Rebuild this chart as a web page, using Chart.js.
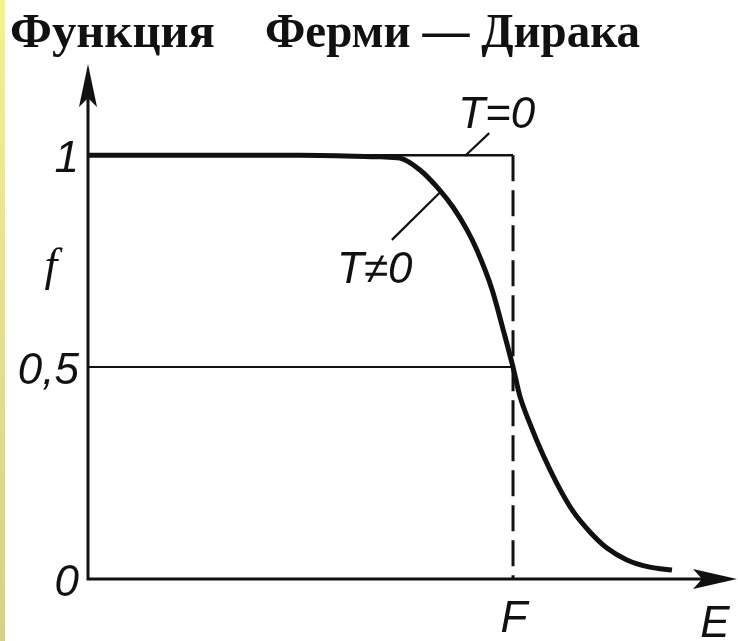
<!DOCTYPE html>
<html>
<head>
<meta charset="utf-8">
<script src="https://cdn.jsdelivr.net/npm/chart.js@4/dist/chart.umd.min.js"></script>
<style>
  html, body { margin: 0; padding: 0; background: #fff; }
  canvas { display: block; }
</style>
</head>
<body>
<canvas id="fd" width="738" height="641"></canvas>
<script>
// Energy in units of the Fermi energy F; occupancy f of a state at that energy (T ≠ 0)
const energyWarm = [0, 0.5, 0.69, 0.734, 0.781, 0.828, 0.859, 0.892, 0.915, 0.951, 0.979,
                    1.0, 1.016, 1.04, 1.071, 1.104, 1.141, 1.181, 1.221, 1.268, 1.322, 1.374];
const occupancyWarm = [1, 1, 0.996, 0.993, 0.965, 0.917, 0.877, 0.823, 0.776, 0.682, 0.58,
                       0.5, 0.432, 0.366, 0.292, 0.224, 0.16, 0.111, 0.073, 0.045, 0.028, 0.021];

// Step function at absolute zero
const energyCold = [0, 1];
const occupancyCold = [1, 1];
const fermiEnergy = 1;
const halfLevel = 0.5;

// Axis ranges (the arrows end at the maxima)
const energyRange = [0, 1.527];
const occupancyRange = [0, 1.215];

// Tick marks and their labels
const yTickValues = [0, 0.5, 1];
const yTickLabels = ['0', '0,5', '1'];
const xTickValues = [1];
const xTickLabels = ['F'];

const titleParts = ['Функция', 'Ферми — Дирака'];
const axisNameY = 'f';
const axisNameX = 'E';
const labelCold = 'T=0';
const labelWarm = 'T≠0';

const INK = '#111';
const pts = (xs, ys) => xs.map((x, i) => ({ x, y: ys[i] }));

// Axes with arrowheads, labels, leader lines, heading and the page edge
const decor = {
  id: 'decor',
  beforeDraw(chart) {
    const { ctx, width, height } = chart;
    ctx.save();
    ctx.fillStyle = '#fff';
    ctx.fillRect(0, 0, width, height);
    const g = ctx.createLinearGradient(0, 0, 0, height);
    g.addColorStop(0, '#f6f18c');
    g.addColorStop(1, '#d7d183');
    ctx.fillStyle = g;
    ctx.fillRect(0, 0, 5, height);
    ctx.restore();
  },
  afterDatasetsDraw(chart) {
    const { ctx, chartArea } = chart;
    const xs = chart.scales.x, ys = chart.scales.y;
    const X = v => xs.getPixelForValue(v);
    const Y = v => ys.getPixelForValue(v);
    const x0 = X(0), y0 = Y(0);
    const tipX = chartArea.right, tipY = chartArea.top;

    ctx.save();
    ctx.strokeStyle = INK;
    ctx.fillStyle = INK;
    ctx.lineCap = 'butt';

    // axis lines
    ctx.lineWidth = 3;
    ctx.beginPath();
    ctx.moveTo(x0, y0 + 1.5);
    ctx.lineTo(x0, tipY + 12);
    ctx.moveTo(x0 - 1.5, y0);
    ctx.lineTo(tipX - 12, y0);
    ctx.stroke();

    // arrowheads
    ctx.beginPath();
    ctx.moveTo(x0, tipY);
    ctx.lineTo(x0 + 9, tipY + 43);
    ctx.lineTo(x0, tipY + 34);
    ctx.lineTo(x0 - 9, tipY + 43);
    ctx.closePath();
    ctx.fill();
    ctx.beginPath();
    ctx.moveTo(tipX, y0);
    ctx.lineTo(tipX - 44, y0 - 10);
    ctx.lineTo(tipX - 35, y0);
    ctx.lineTo(tipX - 44, y0 + 10);
    ctx.closePath();
    ctx.fill();

    // leader lines to the curve labels
    ctx.lineWidth = 2.2;
    ctx.beginPath();
    ctx.moveTo(X(0.887), Y(0.998));
    ctx.lineTo(X(0.944), Y(1.052));
    ctx.moveTo(X(0.715), Y(0.800));
    ctx.lineTo(X(0.828), Y(0.912));
    ctx.stroke();

    // tick labels
    ctx.font = 'italic 44px "Liberation Sans", Arial, sans-serif';
    ctx.textBaseline = 'alphabetic';
    ctx.textAlign = 'right';
    yTickValues.forEach((v, i) => ctx.fillText(yTickLabels[i], x0 - 9, Y(v) + 17));
    ctx.textAlign = 'center';
    xTickValues.forEach((v, i) => ctx.fillText(xTickLabels[i], X(v) + 1, y0 + 53));
    ctx.fillText(axisNameX, tipX - 22, y0 + 58);

    // curve labels
    ctx.textAlign = 'left';
    ctx.fillText(labelCold, X(0.871), Y(1.064));
    ctx.fillText(labelWarm, X(0.586), Y(0.698));

    // ordinate name
    ctx.font = 'italic 46px "Liberation Serif", "Times New Roman", serif';
    ctx.textAlign = 'center';
    ctx.fillText(axisNameY, x0 - 37, Y(0.73) + 10);

    // heading, each part fitted to its span
    ctx.font = 'bold 48px "Liberation Serif", "Times New Roman", serif';
    ctx.textAlign = 'left';
    const spans = [[10, 205], [265, 375]];
    titleParts.forEach((t, i) => {
      const w = ctx.measureText(t).width;
      ctx.save();
      ctx.translate(spans[i][0], 47);
      ctx.scale(spans[i][1] / w, 1);
      ctx.fillText(t, 0, 0);
      ctx.restore();
    });
    ctx.restore();
  }
};

new Chart(document.getElementById('fd'), {
  type: 'line',
  data: {
    datasets: [
      {
        label: labelWarm,
        data: pts(energyWarm, occupancyWarm),
        borderColor: INK, borderWidth: 5,
        cubicInterpolationMode: 'monotone',
        pointRadius: 0, order: 0
      },
      {
        label: labelCold,
        data: pts(energyCold, occupancyCold),
        borderColor: INK, borderWidth: 2.5,
        pointRadius: 0, order: 1
      },
      {
        label: 'F',
        data: [{ x: fermiEnergy, y: occupancyCold[1] }, { x: fermiEnergy, y: 0 }],
        borderColor: INK, borderWidth: 3, borderDash: [26, 9],
        pointRadius: 0, order: 2
      },
      {
        label: '0,5',
        data: [{ x: 0, y: halfLevel }, { x: fermiEnergy, y: halfLevel }],
        borderColor: INK, borderWidth: 2,
        pointRadius: 0, order: 3
      }
    ]
  },
  options: {
    responsive: false,
    animation: false,
    devicePixelRatio: 1,
    clip: false,
    layout: { padding: { left: 88, top: 64, right: 1, bottom: 62 } },
    scales: {
      x: { type: 'linear', min: energyRange[0], max: energyRange[1], display: false },
      y: { type: 'linear', min: occupancyRange[0], max: occupancyRange[1], display: false }
    },
    plugins: { legend: { display: false }, tooltip: { enabled: false } }
  },
  plugins: [decor]
});
</script>
</body>
</html>
